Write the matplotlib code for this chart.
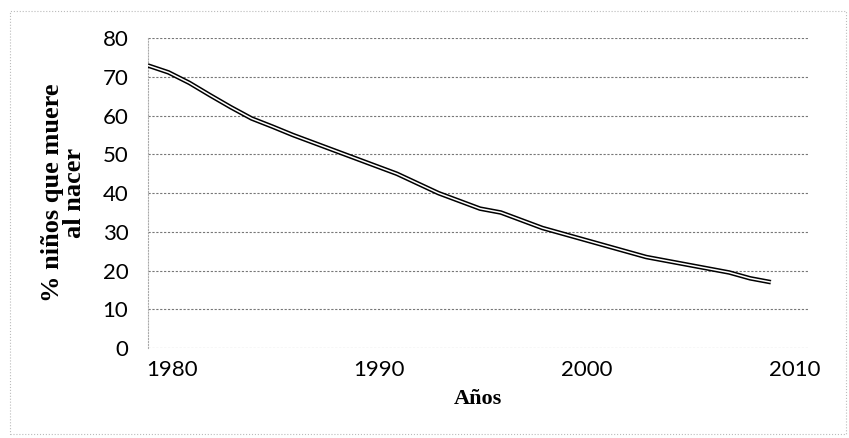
import numpy as np
import matplotlib
matplotlib.use('Agg')
import matplotlib.pyplot as plt
import matplotlib.transforms as mtransforms
from matplotlib.patches import Rectangle

# datos
anios = [1980, 1981, 1982, 1983, 1984, 1985, 1986, 1987, 1988, 1989,
         1990, 1991, 1992, 1993, 1994, 1995, 1996, 1997, 1998, 1999,
         2000, 2001, 2002, 2003, 2004, 2005, 2006, 2007, 2008, 2009, 2010]
porcentaje = [73, 71.2, 68.5, 65.3, 62.2, 59.3, 57.2, 55, 53, 51,
              49, 47, 45, 42.5, 40, 38, 36, 35, 33, 31,
              29.5, 28, 26.5, 25, 23.5, 22.5, 21.5, 20.5, 19.5, 18, 17]
yticks = [0, 10, 20, 30, 40, 50, 60, 70, 80]
xticks = [1980, 1990, 2000, 2010]

fig = plt.figure(figsize=(8.49, 4.38), dpi=100)
ax = fig.add_axes([0.174, 0.2055, 0.778, 0.707])

# linea doble (negra con centro blanco)
ax.plot(anios, porcentaje, color='black', lw=3.3, solid_capstyle='butt', zorder=3)
ax.plot(anios, porcentaje, color='white', lw=1.1, solid_capstyle='butt', zorder=4)

ax.set_ylim(0, 80)
ax.set_xlim(1980, 2011.8)
ax.set_yticks(yticks)
ax.set_xticks(xticks)
ax.grid(axis='y', color='#777777', ls=(0, (2, 1.5)), lw=0.8)
ax.grid(axis='x', visible=False)
ax.tick_params(length=0, labelsize=16)
ax.tick_params(axis='y', pad=14)
ax.tick_params(axis='x', pad=9)
for lab in ax.get_xticklabels() + ax.get_yticklabels():
    lab.set_family('Lato')
# desplazar etiquetas del eje x un poco a la derecha (como en el original)
off = mtransforms.ScaledTranslation(24/100, 0, fig.dpi_scale_trans)
for lab in ax.get_xticklabels():
    lab.set_transform(lab.get_transform() + off)

for s in ['top', 'right', 'bottom']:
    ax.spines[s].set_visible(False)
ax.spines['left'].set_color('#aaaaaa')
ax.spines['left'].set_linestyle(':')
ax.spines['left'].set_linewidth(0.8)

ax.set_xlabel('Años', family='Liberation Serif', fontweight='bold', fontsize=16, labelpad=6)
ax.set_ylabel('% niños que muere\nal nacer', family='Liberation Serif', fontweight='bold',
              fontsize=19, labelpad=12, linespacing=0.95)

# borde punteado del grafico
fig.patches.append(Rectangle((0.012, 0.01), 0.985, 0.965, transform=fig.transFigure,
                             fill=False, ec='#bbbbbb', ls=':', lw=0.8))

fig.savefig('out.png', dpi=100)
